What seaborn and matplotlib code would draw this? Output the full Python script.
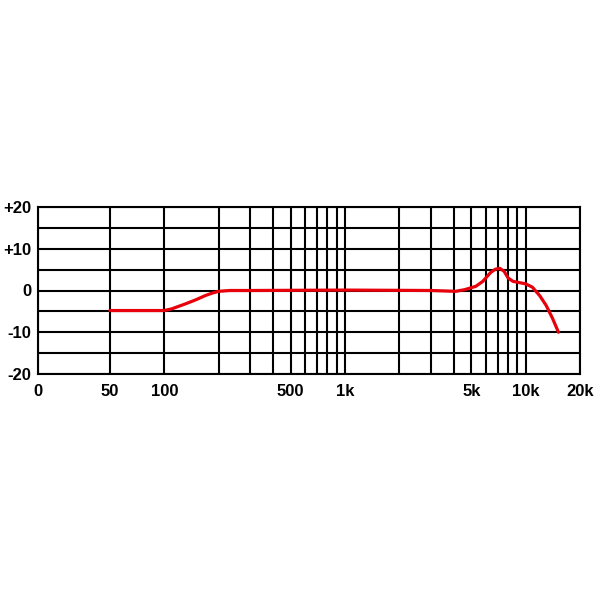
import matplotlib
matplotlib.use("Agg")
import matplotlib.pyplot as plt
import seaborn as sns
import pandas as pd

# frequency response (Hz, dB)
freq_hz = [50, 100, 110, 120, 131, 150, 169, 185, 200, 230, 300, 1000, 3000, 4100,
           4600, 5300, 5800, 6400, 6800, 7200, 7600, 8000, 8500, 9200, 10000,
           10900, 12000, 13000, 14100, 15200]
level_db = [-4.8, -4.8, -4.4, -3.8, -3.2, -2.2, -1.2, -0.6, -0.2, 0.0, 0.0, 0.1, 0.0,
            -0.2, 0.2, 1.0, 2.2, 4.3, 5.1, 5.3, 4.6, 3.0, 2.2, 1.9, 1.6,
            0.8, -1.3, -3.6, -6.7, -10.0]

x_ticks = [20, 50, 100, 500, 1000, 5000, 10000, 20000]
x_labels = ["0", "50", "100", "500", "1k", "5k", "10k", "20k"]
x_minor = [200, 300, 400, 600, 700, 800, 900,
           2000, 3000, 4000, 6000, 7000, 8000, 9000]
y_ticks = [-20, -10, 0, 10, 20]
y_labels = ["-20", "-10", "0", "+10", "+20"]
y_minor = [-15, -5, 5, 15]

df = pd.DataFrame({"freq": freq_hz, "db": level_db})

sns.set_style("white")
plt.rcParams["font.family"] = ["Liberation Sans", "DejaVu Sans"]

fig = plt.figure(figsize=(6, 6), dpi=100)
ax = fig.add_axes([38 / 600, 1 - 374 / 600, 542 / 600, 167 / 600])

sns.lineplot(data=df, x="freq", y="db", ax=ax, color="#e8000b", linewidth=2.3)

ax.set_xscale("log")
ax.set_xlim(20, 20000)
ax.set_ylim(-20, 20)
ax.set_xticks(x_ticks)
ax.set_xticklabels(x_labels)
ax.set_xticks(x_minor, minor=True)
ax.set_xticklabels([], minor=True)
ax.set_yticks(y_ticks)
ax.set_yticklabels(y_labels)
ax.set_yticks(y_minor, minor=True)

ax.grid(True, which="both", color="black", linewidth=1.5)
ax.set_axisbelow(True)
for s in ax.spines.values():
    s.set_color("black")
    s.set_linewidth(1.5)

ax.tick_params(which="both", length=0, labelcolor="black")
ax.tick_params(axis="x", pad=7, labelsize=12)
ax.tick_params(axis="y", pad=5, labelsize=12)
for lbl in ax.get_xticklabels() + ax.get_yticklabels():
    lbl.set_fontweight("bold")
ax.set_xlabel("")
ax.set_ylabel("")

fig.savefig("out.png", dpi=100)
